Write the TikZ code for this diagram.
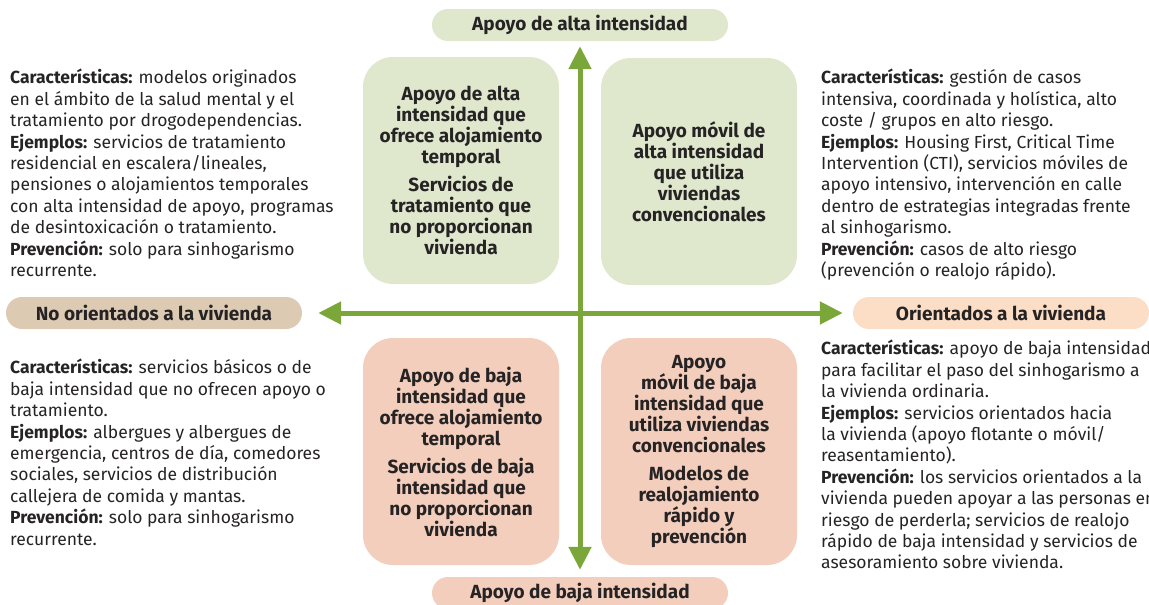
\documentclass[tikz,border=0pt]{standalone}
\usepackage{fontspec}
\setmainfont{Fira Sans}
\usetikzlibrary{arrows.meta}

\definecolor{axisgreen}{HTML}{7BA63A}
\definecolor{highfill}{HTML}{DFE8CD}
\definecolor{lowfill}{HTML}{F3CEBC}
\definecolor{nohousefill}{HTML}{DDCAB3}
\definecolor{housefill}{HTML}{FCDDC6}
\definecolor{ink}{HTML}{262324}

\tikzset{
  pill/.style={rounded corners=16pt, minimum width=296pt, minimum height=32pt,
    inner sep=0pt, text=ink, font=\bfseries\fontsize{19}{21}\selectfont},
  quad/.style={rounded corners=30pt, minimum width=196pt, minimum height=227pt,
    inner sep=0pt, align=center, text=ink, font=\bfseries\fontsize{19}{21}\selectfont},
  desc/.style={anchor=north west, inner sep=0pt, align=left, text=ink,
    font=\fontsize{17.5}{21.4}\selectfont},
  axis/.style={draw=axisgreen, line width=5pt,
    {Triangle[length=23pt,width=22pt]}-{Triangle[length=23pt,width=22pt]}}
}

\begin{document}
\begin{tikzpicture}[x=1pt,y=-1pt]
\useasboundingbox (0,0) rectangle (1149,605);

% axis labels
\node[pill,fill=highfill] (high) at (580,25) {Apoyo de alta intensidad};
\node[pill,fill=lowfill] (low) at (580,593) {Apoyo de baja intensidad};
\node[pill,fill=nohousefill] (nohouse) at (154,313) {No orientados a la vivienda};
\node[pill,fill=housefill] (house) at (1001,313) {Orientados a la vivienda};

\draw[axis,shorten <=7pt,shorten >=5pt] (low.north) -- (high.south);
\draw[axis,shorten <=16pt,shorten >=10pt] (nohouse.east) -- (house.west);

% quadrants
\node[quad,fill=highfill] (hino) at (461,170.5)
  {Apoyo de alta\\intensidad que\\ofrece alojamiento\\temporal\\[7pt]
   Servicios de\\tratamiento que\\no proporcionan\\vivienda};
\node[quad,fill=highfill] (hihouse) at (699,171.5)
  {Apoyo móvil de\\alta intensidad\\que utiliza\\viviendas\\convencionales};
\node[quad,fill=lowfill] (lono) at (461,451.5)
  {Apoyo de baja\\intensidad que\\ofrece alojamiento\\temporal\\[7pt]
   Servicios de baja\\intensidad que\\no proporcionan\\vivienda};
\node[quad,fill=lowfill] (lohouse) at (699,451.5)
  {Apoyo\\móvil de baja\\intensidad que\\utiliza viviendas\\convencionales\\[7pt]
   Modelos de\\realojamiento\\rápido y\\prevención};

% descriptions
\node[desc] (hinotext) at (10,69)
  {\textbf{Características:} modelos originados\\
   en el ámbito de la salud mental y el\\
   tratamiento por drogodependencias.\\
   \textbf{Ejemplos:} servicios de tratamiento\\
   residencial en escalera/lineales,\\
   pensiones o alojamientos temporales\\
   con alta intensidad de apoyo, programas\\
   de desintoxicación o tratamiento.\\
   \textbf{Prevención:} solo para sinhogarismo\\
   recurrente.};
\node[desc] (hihousetext) at (821,69)
  {\textbf{Características:} gestión de casos\\
   intensiva, coordinada y holística, alto\\
   coste / grupos en alto riesgo.\\
   \textbf{Ejemplos:} Housing First, Critical Time\\
   Intervention (CTI), servicios móviles de\\
   apoyo intensivo, intervención en calle\\
   dentro de estrategias integradas frente\\
   al sinhogarismo.\\
   \textbf{Prevención:} casos de alto riesgo\\
   (prevención o realojo rápido).};
\node[desc] (lonotext) at (10,359)
  {\textbf{Características:} servicios básicos o de\\
   baja intensidad que no ofrecen apoyo o\\
   tratamiento.\\
   \textbf{Ejemplos:} albergues y albergues de\\
   emergencia, centros de día, comedores\\
   sociales, servicios de distribución\\
   callejera de comida y mantas.\\
   \textbf{Prevención:} solo para sinhogarismo\\
   recurrente.};
\node[desc] (lohousetext) at (821,340)
  {\textbf{Características:} apoyo de baja intensidad\\
   para facilitar el paso del sinhogarismo a\\
   la vivienda ordinaria.\\
   \textbf{Ejemplos:} servicios orientados hacia\\
   la vivienda (apoyo flotante o móvil/\\
   reasentamiento).\\
   \textbf{Prevención:} los servicios orientados a la\\
   vivienda pueden apoyar a las personas en\\
   riesgo de perderla; servicios de realojo\\
   rápido de baja intensidad y servicios de\\
   asesoramiento sobre vivienda.};

\end{tikzpicture}
\end{document}
